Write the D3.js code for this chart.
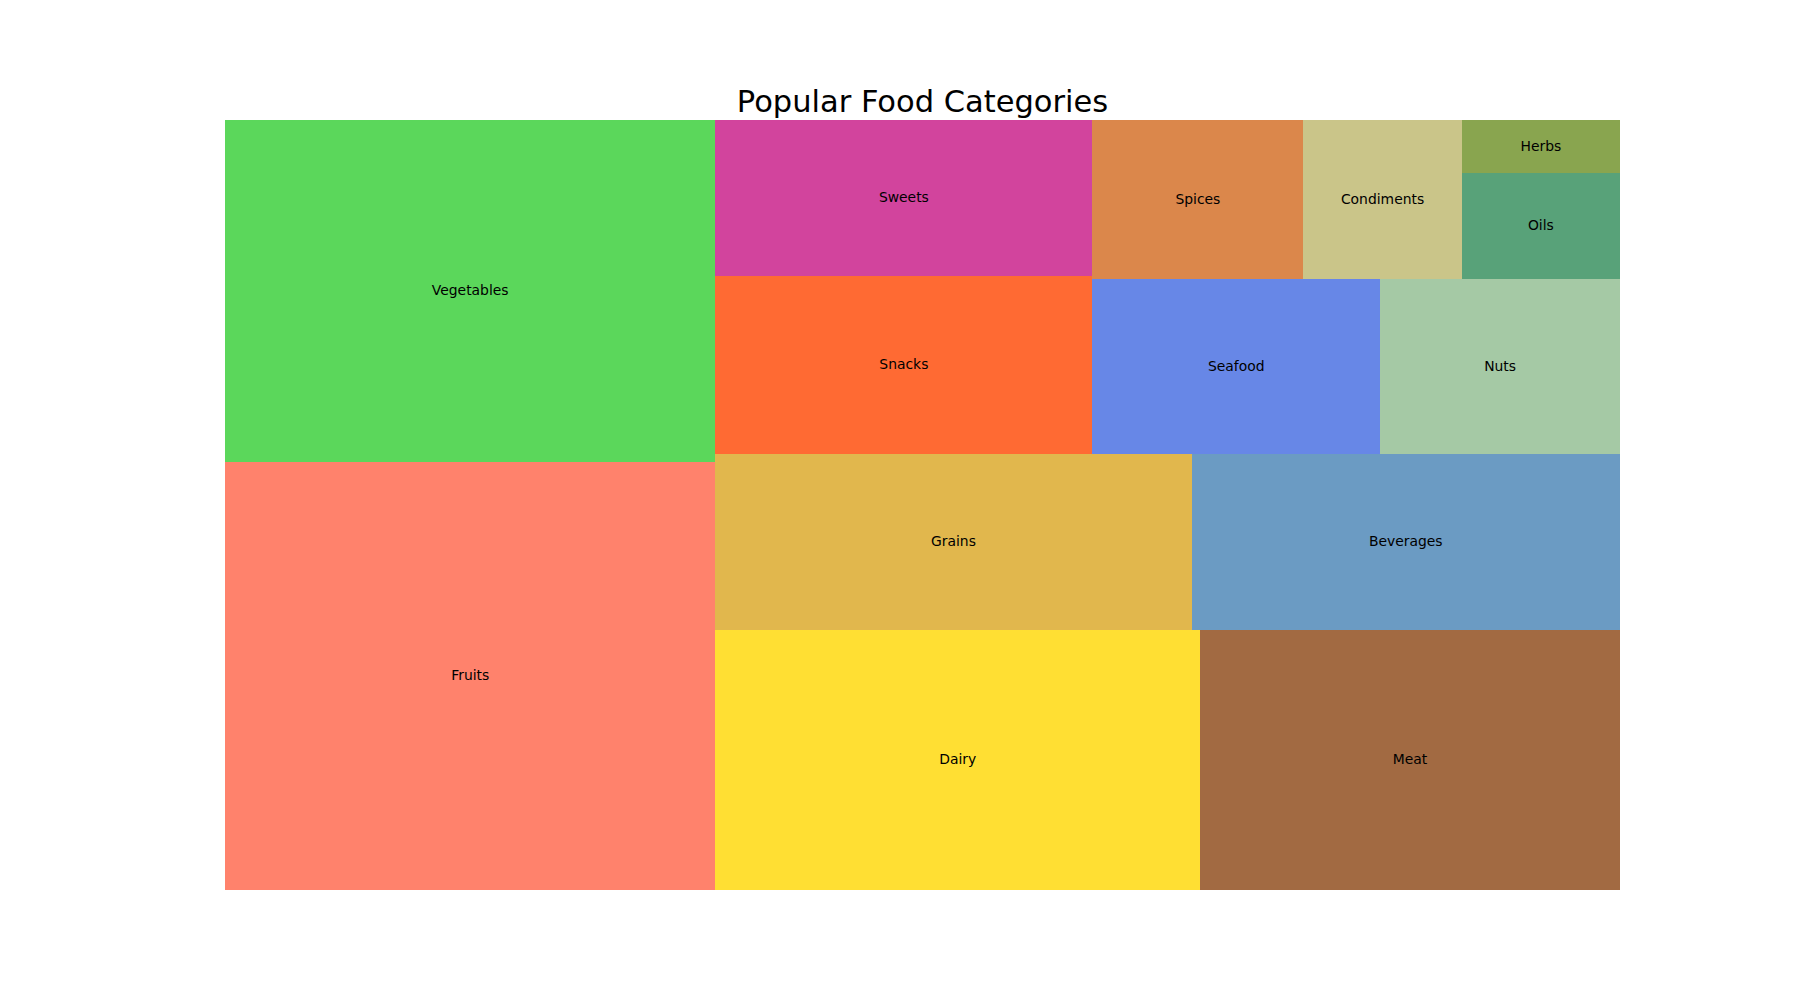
<!DOCTYPE html>
<html>
<head>
<meta charset="utf-8">
<script src="https://cdn.jsdelivr.net/npm/d3@7"></script>
<style>
  html, body { margin: 0; padding: 0; background: #ffffff; }
  svg { display: block; }
</style>
</head>
<body>
<svg id="chart" width="1800" height="1000"></svg>
<script>
// ---- data ----
const categories = ["Fruits", "Vegetables", "Dairy", "Meat", "Grains", "Beverages", "Snacks",
  "Sweets", "Seafood", "Nuts", "Spices", "Condiments", "Oils", "Herbs"];
const values = [25, 20, 15, 13, 10, 9, 8, 7, 6, 5, 4, 3, 2, 1];
const colors = ["tomato", "limegreen", "gold", "saddlebrown", "goldenrod", "steelblue", "orangered",
  "mediumvioletred", "royalblue", "darkseagreen", "chocolate", "darkkhaki", "seagreen", "olivedrab"];
const titleText = "Popular Food Categories";

// ---- squarify (same algorithm as python squarify) ----
function layoutRow(sizes, x, y, dx, dy) {
  const width = d3.sum(sizes) / dy;
  const rects = [];
  for (const s of sizes) { rects.push({x: x, y: y, dx: width, dy: s / width}); y += s / width; }
  return rects;
}
function layoutCol(sizes, x, y, dx, dy) {
  const height = d3.sum(sizes) / dx;
  const rects = [];
  for (const s of sizes) { rects.push({x: x, y: y, dx: s / height, dy: height}); x += s / height; }
  return rects;
}
function layout(sizes, x, y, dx, dy) {
  return dx >= dy ? layoutRow(sizes, x, y, dx, dy) : layoutCol(sizes, x, y, dx, dy);
}
function leftover(sizes, x, y, dx, dy) {
  const a = d3.sum(sizes);
  if (dx >= dy) { const w = a / dy; return [x + w, y, dx - w, dy]; }
  const h = a / dx; return [x, y + h, dx, dy - h];
}
function worst(sizes, x, y, dx, dy) {
  return d3.max(layout(sizes, x, y, dx, dy), r => Math.max(r.dx / r.dy, r.dy / r.dx));
}
function squarify(sizes, x, y, dx, dy) {
  if (sizes.length === 0) return [];
  if (sizes.length === 1) return layout(sizes, x, y, dx, dy);
  let i = 1;
  while (i < sizes.length && worst(sizes.slice(0, i), x, y, dx, dy) >= worst(sizes.slice(0, i + 1), x, y, dx, dy)) i++;
  const cur = sizes.slice(0, i), rem = sizes.slice(i);
  const [lx, ly, ldx, ldy] = leftover(cur, x, y, dx, dy);
  return layout(cur, x, y, dx, dy).concat(squarify(rem, lx, ly, ldx, ldy));
}

const normX = 100, normY = 100;
const total = d3.sum(values);
const normed = values.map(v => v * normX * normY / total);
const rects = squarify(normed, 0, 0, normX, normY);

// ---- scales ----
const xScale = d3.scaleLinear().domain([0, normX]).range([225, 1620]);
const yScale = d3.scaleLinear().domain([0, normY]).range([890, 120]);

const svg = d3.select("#chart");

const g = svg.append("g");
const cells = g.selectAll("g.cell").data(rects).join("g").attr("class", "cell");

cells.append("rect")
  .attr("x", d => xScale(d.x))
  .attr("y", d => yScale(d.y + d.dy))
  .attr("width", d => xScale(d.x + d.dx) - xScale(d.x))
  .attr("height", d => yScale(d.y) - yScale(d.y + d.dy))
  .attr("fill", (d, i) => colors[i])
  .attr("fill-opacity", 0.8)
  .attr("shape-rendering", "crispEdges");

cells.append("text")
  .attr("x", d => xScale(d.x + d.dx / 2))
  .attr("y", d => yScale(d.y + d.dy / 2) - 1)
  .attr("text-anchor", "middle")
  .attr("dominant-baseline", "central")
  .attr("font-family", "DejaVu Sans, sans-serif")
  .attr("font-size", "13.9px")
  .attr("fill", "#000")
  .text((d, i) => categories[i]);

svg.append("text")
  .attr("x", (xScale(0) + xScale(normX)) / 2)
  .attr("y", 111.5)
  .attr("text-anchor", "middle")
  .attr("font-family", "DejaVu Sans, sans-serif")
  .attr("font-size", "30.5px")
  .attr("fill", "#000")
  .text(titleText);
</script>
</body>
</html>
